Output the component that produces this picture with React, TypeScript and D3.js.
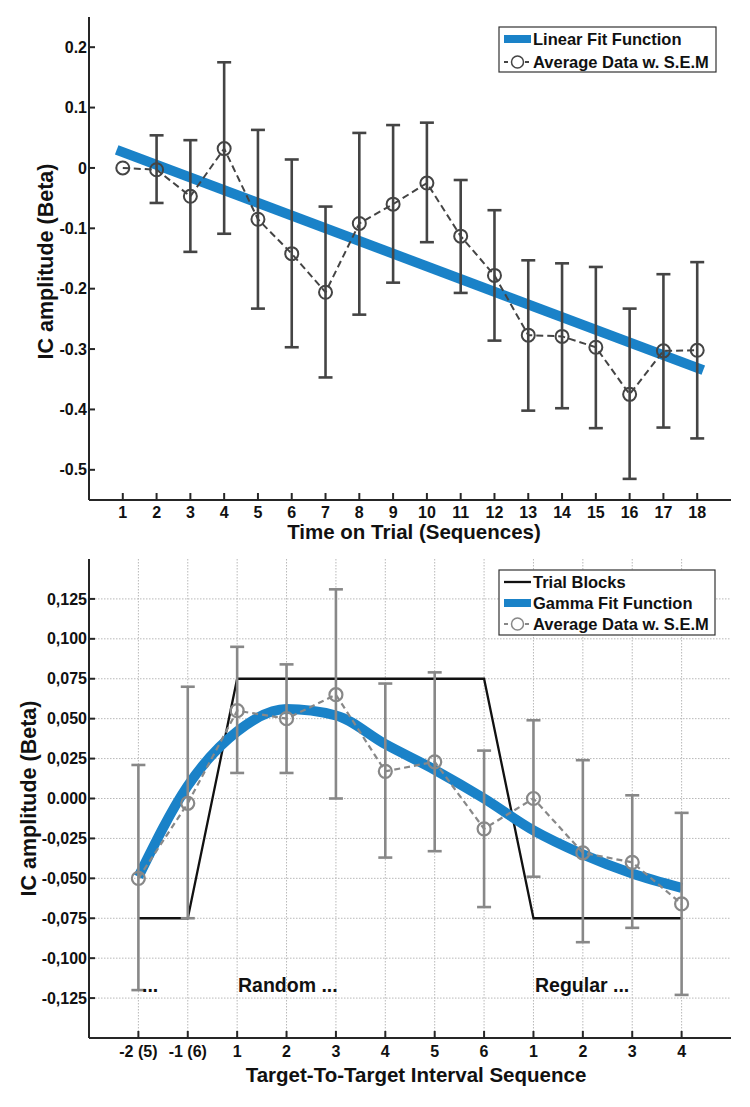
import React from "react";
import * as d3 from "d3";

// ---------- Top chart data ----------
const topX = [1, 2, 3, 4, 5, 6, 7, 8, 9, 10, 11, 12, 13, 14, 15, 16, 17, 18];
const topMean = [0, -0.003, -0.047, 0.032, -0.085, -0.142, -0.206, -0.092, -0.06, -0.025, -0.113, -0.178, -0.277, -0.279, -0.297, -0.375, -0.303, -0.302];
const topUpper = [null, 0.054, 0.046, 0.175, 0.063, 0.014, -0.064, 0.058, 0.071, 0.075, -0.02, -0.07, -0.153, -0.158, -0.164, -0.233, -0.176, -0.156];
const topLower = [null, -0.058, -0.139, -0.109, -0.233, -0.297, -0.347, -0.243, -0.19, -0.123, -0.207, -0.286, -0.402, -0.398, -0.431, -0.515, -0.43, -0.448];
const linearFitX = [0.82, 18.18];
const linearFitY = [0.03, -0.335];
const topYTicks = [0.2, 0.1, 0, -0.1, -0.2, -0.3, -0.4, -0.5];
const topYTickLabels = ["0.2", "0.1", "0", "-0.1", "-0.2", "-0.3", "-0.4", "-0.5"];

// ---------- Bottom chart data ----------
const botCategories = ["-2 (5)", "-1 (6)", "1", "2", "3", "4", "5", "6", "1", "2", "3", "4"];
const botMean = [-0.05, -0.003, 0.055, 0.05, 0.065, 0.017, 0.023, -0.019, 0.0, -0.034, -0.04, -0.066];
const botUpper = [0.021, 0.07, 0.095, 0.084, 0.131, 0.072, 0.079, 0.03, 0.049, 0.024, 0.002, -0.009];
const botLower = [-0.12, -0.075, 0.016, 0.016, 0.0, -0.037, -0.033, -0.068, -0.049, -0.09, -0.081, -0.123];
const gammaFit = [-0.049, 0.008, 0.042, 0.056, 0.052, 0.034, 0.018, 0.0, -0.02, -0.035, -0.047, -0.056];
const trialBlocks = [-0.075, -0.075, 0.075, 0.075, 0.075, 0.075, 0.075, 0.075, -0.075, -0.075, -0.075, -0.075];
const botYTicks = [0.125, 0.1, 0.075, 0.05, 0.025, 0, -0.025, -0.05, -0.075, -0.1, -0.125];
const botYTickLabels = ["0,125", "0,100", "0,075", "0,050", "0,025", "0.000", "-0,025", "-0,050", "-0,075", "-0,100", "-0,125"];

const FONT = "'Liberation Sans', Arial, Helvetica, sans-serif";
const BLUE = "#1a82c8";
const AXIS = "#262626";

function ErrorBars({ xs, ys, up, lo, color }: any) {
  const cap = 7;
  return (
    <g stroke={color} strokeWidth={2.6} fill="none">
      {xs.map((x: number, i: number) => {
        if (up[i] == null || lo[i] == null) return null;
        const yu = ys(up[i]);
        const yl = ys(lo[i]);
        return (
          <g key={i}>
            <line x1={x} x2={x} y1={yu} y2={yl} />
            <line x1={x - cap} x2={x + cap} y1={yu} y2={yu} />
            <line x1={x - cap} x2={x + cap} y1={yl} y2={yl} />
          </g>
        );
      })}
    </g>
  );
}

export default function App() {
  // Top chart
  const tL = 89, tR = 731, tT = 17, tB = 500;
  const tx = d3.scaleLinear().domain([0, 19]).range([tL, tR]);
  const ty = d3.scaleLinear().domain([-0.55, 0.25]).range([tB, tT]);
  const topLine = d3.line<number>().x((_, i) => tx(topX[i])).y((d) => ty(d))(topMean) || "";
  const fitLine = d3.line<number>().x((_, i) => tx(linearFitX[i])).y((d) => ty(d))(linearFitY) || "";

  // Bottom chart
  const bL = 89, bR = 731, bT = 559, bB = 1038;
  const bx = d3.scaleLinear().domain([-1, 12]).range([bL, bR]);
  const by = d3.scaleLinear().domain([-0.15, 0.15]).range([bB, bT]);
  const idx = botCategories.map((_, i) => i);
  const botLine = d3.line<number>().x((_, i) => bx(i)).y((d) => by(d))(botMean) || "";
  const gammaLine = d3.line<number>().x((_, i) => bx(i)).y((d) => by(d)).curve(d3.curveMonotoneX)(gammaFit) || "";
  const blockLine = d3.line<number>().x((_, i) => bx(i)).y((d) => by(d))(trialBlocks) || "";

  return (
    <svg width={750} height={1107} style={{ position: "absolute", left: 0, top: 0, background: "#fff" }} fontFamily={FONT}>
      <rect x={0} y={0} width={750} height={1107} fill="#fff" />
      {/* ================= TOP CHART ================= */}
      <g>
        <line x1={tL} x2={tL} y1={tT} y2={tB} stroke={AXIS} strokeWidth={2} />
        <line x1={tL} x2={tR} y1={tB} y2={tB} stroke={AXIS} strokeWidth={2} />
        {topYTicks.map((v, i) => (
          <g key={i}>
            <line x1={tL} x2={tL + 6} y1={ty(v)} y2={ty(v)} stroke={AXIS} strokeWidth={2} />
            <text x={tL - 2} y={ty(v)} dy="0.35em" textAnchor="end" fontSize={16} fontWeight="bold" fill="#111">
              {topYTickLabels[i]}
            </text>
          </g>
        ))}
        {topX.map((v, i) => (
          <g key={i}>
            <line x1={tx(v)} x2={tx(v)} y1={tB} y2={tB - 7} stroke={AXIS} strokeWidth={2} />
            <text x={tx(v)} y={tB + 18} textAnchor="middle" fontSize={16} fontWeight="bold" fill="#111">
              {v}
            </text>
          </g>
        ))}
        <text x={(tL + tR) / 2 + 4} y={539} textAnchor="middle" fontSize={20.5} fontWeight="bold" fill="#111">
          Time on Trial (Sequences)
        </text>
        <text transform={`translate(53, ${(tT + tB) / 2 + 3}) rotate(-90)`} textAnchor="middle" fontSize={21.5} fontWeight="bold" fill="#111">
          IC amplitude (Beta)
        </text>

        <path d={fitLine} stroke={BLUE} strokeWidth={10} fill="none" />
        <ErrorBars xs={topX.map((v) => tx(v))} ys={ty} up={topUpper} lo={topLower} color="#444" />
        <path d={topLine} stroke="#444" strokeWidth={2} strokeDasharray="7,4" fill="none" />
        {topMean.map((v, i) => (
          <circle key={i} cx={tx(topX[i])} cy={ty(v)} r={6.5} fill="none" stroke="#444" strokeWidth={2} />
        ))}

        {/* legend */}
        <rect x={499} y={27} width={217} height={45} fill="#fff" stroke="#333" strokeWidth={1.2} />
        <line x1={504} x2={531} y1={39} y2={39} stroke={BLUE} strokeWidth={8} />
        <text x={533} y={39} dy="0.36em" fontSize={16.5} fontWeight="bold" fill="#111">Linear Fit Function</text>
        <line x1={504} x2={531} y1={62} y2={62} stroke="#444" strokeWidth={2} strokeDasharray="4,3" />
        <circle cx={517.5} cy={62} r={6} fill="#fff" stroke="#444" strokeWidth={1.5} />
        <text x={533} y={62} dy="0.36em" fontSize={16.5} fontWeight="bold" fill="#111">Average Data w. S.E.M</text>
      </g>

      {/* ================= BOTTOM CHART ================= */}
      <g>
        <g stroke="#b8b8b8" strokeWidth={1} strokeDasharray="1.5,1.5">
          {botYTicks.map((v, i) => (
            <line key={"h" + i} x1={bL} x2={bR} y1={by(v)} y2={by(v)} />
          ))}
          {idx.map((i) => (
            <line key={"v" + i} x1={bx(i)} x2={bx(i)} y1={bT} y2={bB} />
          ))}
        </g>
        <line x1={bL} x2={bL} y1={bT} y2={bB} stroke={AXIS} strokeWidth={2} />
        <line x1={bL} x2={bR} y1={bB} y2={bB} stroke={AXIS} strokeWidth={2} />
        {botYTicks.map((v, i) => (
          <g key={i}>
            <line x1={bL} x2={bL + 6} y1={by(v)} y2={by(v)} stroke={AXIS} strokeWidth={2} />
            <text x={bL - 2} y={by(v)} dy="0.35em" textAnchor="end" fontSize={16} fontWeight="bold" fill="#111">
              {botYTickLabels[i]}
            </text>
          </g>
        ))}
        {botCategories.map((c, i) => (
          <g key={i}>
            <line x1={bx(i)} x2={bx(i)} y1={bB} y2={bB - 7} stroke={AXIS} strokeWidth={2} />
            <text x={bx(i)} y={bB + 19} textAnchor="middle" fontSize={16} fontWeight="bold" fill="#111">
              {c}
            </text>
          </g>
        ))}
        <text x={(bL + bR) / 2 + 6} y={1082} textAnchor="middle" fontSize={20.5} fontWeight="bold" fill="#111">
          Target-To-Target Interval Sequence
        </text>
        <text transform={`translate(36, ${(bT + bB) / 2}) rotate(-90)`} textAnchor="middle" fontSize={21.5} fontWeight="bold" fill="#111">
          IC amplitude (Beta)
        </text>

        <path d={blockLine} stroke="#111" strokeWidth={2.3} fill="none" />
        <path d={gammaLine} stroke={BLUE} strokeWidth={10} fill="none" />
        <ErrorBars xs={idx.map((i) => bx(i))} ys={by} up={botUpper} lo={botLower} color="#888" />
        <path d={botLine} stroke="#888" strokeWidth={2.2} strokeDasharray="6,4" fill="none" />
        {botMean.map((v, i) => (
          <circle key={i} cx={bx(i)} cy={by(v)} r={6.5} fill="none" stroke="#888" strokeWidth={2.2} />
        ))}

        <text x={142} y={992} fontSize={19.5} fontWeight="bold" fill="#111">...</text>
        <text x={238} y={992} fontSize={19.5} fontWeight="bold" fill="#111">Random ...</text>
        <text x={535} y={992} fontSize={19.5} fontWeight="bold" fill="#111">Regular ...</text>

        {/* legend */}
        <rect x={499} y={570} width={216} height={65} fill="#fff" stroke="#333" strokeWidth={1.2} />
        <line x1={504} x2={531} y1={582} y2={582} stroke="#111" strokeWidth={2.3} />
        <text x={533} y={582} dy="0.36em" fontSize={16.5} fontWeight="bold" fill="#111">Trial Blocks</text>
        <line x1={504} x2={531} y1={603} y2={603} stroke={BLUE} strokeWidth={8} />
        <text x={533} y={603} dy="0.36em" fontSize={16.5} fontWeight="bold" fill="#111">Gamma Fit Function</text>
        <line x1={504} x2={531} y1={624} y2={624} stroke="#888" strokeWidth={2} strokeDasharray="4,3" />
        <circle cx={517.5} cy={624} r={6} fill="#fff" stroke="#888" strokeWidth={1.5} />
        <text x={533} y={624} dy="0.36em" fontSize={16.5} fontWeight="bold" fill="#111">Average Data w. S.E.M</text>
      </g>
    </svg>
  );
}
